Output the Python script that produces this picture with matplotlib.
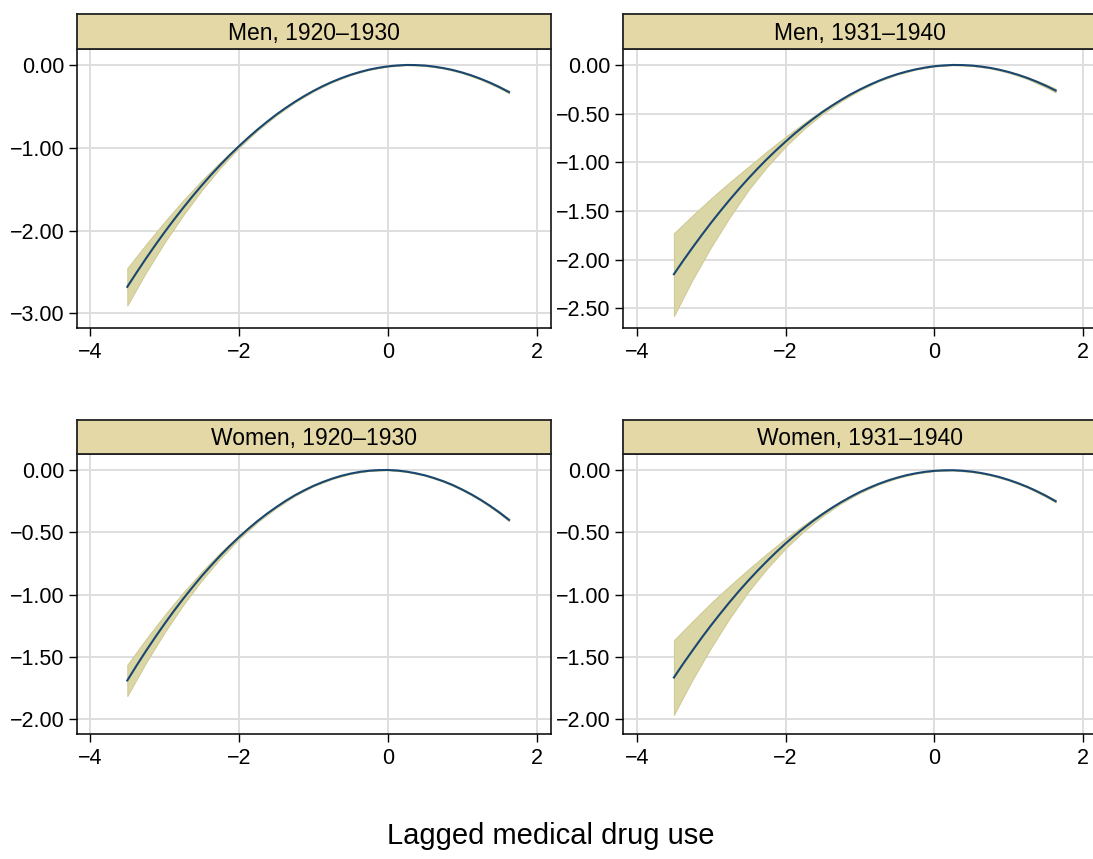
import matplotlib
matplotlib.use("Agg")
import matplotlib.pyplot as plt
from matplotlib.ticker import FuncFormatter

plt.rcParams['font.family'] = ['Liberation Sans', 'DejaVu Sans']

# ---------------- data ----------------
# fine grid for the fitted curves
x_fit = [-3.5, -3.375, -3.25, -3.125, -3.0, -2.875, -2.75, -2.625, -2.5, -2.375, -2.25,
         -2.125, -2.0, -1.875, -1.75, -1.625, -1.5, -1.375, -1.25, -1.125, -1.0,
         -0.875, -0.75, -0.625, -0.5, -0.375, -0.25, -0.125, 0.0, 0.125, 0.25,
         0.375, 0.5, 0.625, 0.75, 0.875, 1.0, 1.125, 1.25, 1.375, 1.5, 1.63]
# coarser grid for the confidence bands
x_band = [-3.5, -3.25, -3.0, -2.75, -2.5, -2.25, -2.0, -1.75, -1.5, -1.25, -1.0,
          -0.75, -0.5, -0.25, 0.0, 0.25, 0.5, 0.75, 1.0, 1.25, 1.5, 1.63]

titles = ["Men, 1920\u20131930", "Men, 1931\u20131940",
          "Women, 1920\u20131930", "Women, 1931\u20131940"]

fit_men_20 = [-2.680, -2.507, -2.339, -2.177, -2.021, -1.871, -1.727, -1.588, -1.455, -1.328, -1.207,
              -1.091, -0.982, -0.878, -0.780, -0.688, -0.601, -0.521, -0.446, -0.377, -0.314,
              -0.256, -0.205, -0.159, -0.119, -0.085, -0.056, -0.034, -0.017, -0.006, 0.000,
              -0.001, -0.007, -0.020, -0.038, -0.061, -0.091, -0.126, -0.168, -0.214, -0.267, -0.328]
lo_men_20 = [-2.905, -2.509, -2.146, -1.817, -1.515, -1.242, -1.002, -0.792, -0.611, -0.454, -0.320,
             -0.210, -0.123, -0.059, -0.019, -0.002, -0.010, -0.043, -0.098, -0.177, -0.279, -0.342]
hi_men_20 = [-2.455, -2.169, -1.896, -1.637, -1.395, -1.172, -0.962, -0.768, -0.591, -0.438, -0.308,
             -0.200, -0.115, -0.053, -0.015, 0.002, -0.004, -0.033, -0.084, -0.159, -0.255, -0.314]

fit_men_31 = [-2.150, -2.011, -1.877, -1.747, -1.621, -1.501, -1.385, -1.274, -1.167, -1.065, -0.968,
              -0.876, -0.788, -0.704, -0.626, -0.552, -0.482, -0.418, -0.358, -0.302, -0.252,
              -0.206, -0.164, -0.127, -0.095, -0.068, -0.045, -0.027, -0.013, -0.005, 0.000,
              -0.001, -0.006, -0.016, -0.030, -0.049, -0.073, -0.101, -0.134, -0.172, -0.214, -0.263]
lo_men_31 = [-2.580, -2.207, -1.871, -1.565, -1.287, -1.048, -0.838, -0.656, -0.502, -0.370, -0.260,
             -0.169, -0.099, -0.048, -0.015, -0.002, -0.009, -0.035, -0.081, -0.145, -0.230, -0.283]
hi_men_31 = [-1.730, -1.547, -1.371, -1.205, -1.047, -0.888, -0.738, -0.596, -0.462, -0.346, -0.244,
             -0.159, -0.091, -0.042, -0.011, 0.002, -0.003, -0.025, -0.065, -0.123, -0.198, -0.243]

fit_wom_20 = [-1.690, -1.570, -1.454, -1.343, -1.236, -1.133, -1.035, -0.942, -0.852, -0.768, -0.687,
              -0.611, -0.540, -0.473, -0.410, -0.352, -0.299, -0.249, -0.204, -0.164, -0.128,
              -0.097, -0.070, -0.047, -0.029, -0.015, -0.006, -0.001, 0.000, -0.004, -0.013,
              -0.026, -0.043, -0.065, -0.091, -0.121, -0.157, -0.196, -0.240, -0.288, -0.341, -0.401]
lo_wom_20 = [-1.815, -1.549, -1.306, -1.085, -0.887, -0.711, -0.555, -0.420, -0.306, -0.209, -0.132,
             -0.073, -0.031, -0.007, -0.001, -0.015, -0.046, -0.095, -0.162, -0.246, -0.349, -0.411]
hi_wom_20 = [-1.565, -1.359, -1.166, -0.985, -0.817, -0.663, -0.525, -0.400, -0.292, -0.199, -0.124,
             -0.067, -0.027, -0.005, 0.001, -0.011, -0.040, -0.087, -0.152, -0.234, -0.333, -0.391]

fit_wom_31 = [-1.666, -1.555, -1.449, -1.345, -1.246, -1.151, -1.059, -0.971, -0.887, -0.807, -0.731,
              -0.658, -0.589, -0.524, -0.463, -0.405, -0.352, -0.302, -0.256, -0.214, -0.175,
              -0.141, -0.110, -0.083, -0.060, -0.040, -0.025, -0.013, -0.005, -0.001, 0.000,
              -0.004, -0.011, -0.022, -0.037, -0.055, -0.078, -0.104, -0.134, -0.168, -0.206, -0.249]
lo_wom_31 = [-1.966, -1.684, -1.426, -1.189, -0.977, -0.791, -0.629, -0.488, -0.367, -0.266, -0.182,
             -0.115, -0.064, -0.028, -0.007, -0.002, -0.014, -0.041, -0.083, -0.140, -0.214, -0.259]
hi_wom_31 = [-1.366, -1.214, -1.066, -0.929, -0.797, -0.671, -0.549, -0.438, -0.337, -0.246, -0.168,
             -0.105, -0.056, -0.022, -0.003, 0.002, -0.008, -0.033, -0.073, -0.128, -0.198, -0.239]

xticks = [-4, -2, 0, 2]
yticks_men_20 = [0.0, -1.0, -2.0, -3.0]
yticks_men_31 = [0.0, -0.5, -1.0, -1.5, -2.0, -2.5]
yticks_wom_20 = [0.0, -0.5, -1.0, -1.5, -2.0]
yticks_wom_31 = [0.0, -0.5, -1.0, -1.5, -2.0]

xlabel = "Lagged medical drug use"

# ---------------- styling ----------------
W, H = 1093, 859
LINE = '#1a476f'
BAND = '#dbd6a5'
BAND_EDGE = '#cdc891'
HEADER = '#e3d8a6'
GRID = '#dedede'

fig = plt.figure(figsize=(W / 100, H / 100), dpi=100)
fig.patch.set_facecolor('white')

# pixel boxes: (left, right, header_top, plot_top, plot_bottom)
boxes = [
    (76.7, 550.7, 14, 49, 328.3),
    (623.3, 1097.3, 14, 49, 328.3),
    (76.7, 550.7, 420, 454.3, 734),
    (623.3, 1097.3, 420, 454.3, 734),
]
ylims = [(-3.181, 0.193), (-2.706, 0.164), (-2.12, 0.126), (-2.12, 0.128)]
xlim = (-4.18, 2.19)

panels = [
    (fit_men_20, lo_men_20, hi_men_20, yticks_men_20),
    (fit_men_31, lo_men_31, hi_men_31, yticks_men_31),
    (fit_wom_20, lo_wom_20, hi_wom_20, yticks_wom_20),
    (fit_wom_31, lo_wom_31, hi_wom_31, yticks_wom_31),
]

def fmt(v, pos):
    s = f"{v:.2f}"
    if s == "-0.00":
        s = "0.00"
    return s.replace('-', '\u2212')

def xfmt(v, pos):
    return f"{v:g}".replace('-', '\u2212')

for (l, r, ht, pt, pb), (fit, lo, hi, yt), title, yl in zip(boxes, panels, titles, ylims):
    ax = fig.add_axes([l / W, 1 - pb / H, (r - l) / W, (pb - pt) / H])
    ax.fill_between(x_band, lo, hi, facecolor=BAND, edgecolor=BAND_EDGE, linewidth=0.7, zorder=2)
    ax.plot(x_fit, fit, color=LINE, linewidth=1.5, zorder=3, solid_joinstyle='round')
    ax.set_xlim(*xlim)
    ax.set_ylim(*yl)
    ax.set_xticks(xticks)
    ax.set_yticks(yt)
    ax.yaxis.set_major_formatter(FuncFormatter(fmt))
    ax.xaxis.set_major_formatter(FuncFormatter(xfmt))
    ax.grid(True, color=GRID, linewidth=1.4, zorder=0)
    ax.set_axisbelow(True)
    for s in ax.spines.values():
        s.set_linewidth(1.1)
        s.set_color('black')
    ax.tick_params(axis='both', length=6, width=1.0, labelsize=15.5, color='black')
    ax.tick_params(axis='x', pad=4)
    ax.tick_params(axis='y', pad=3)

    # header strip
    hax = fig.add_axes([l / W, 1 - pt / H, (r - l) / W, (pt - ht) / H])
    hax.set_facecolor(HEADER)
    hax.set_xticks([])
    hax.set_yticks([])
    for s in hax.spines.values():
        s.set_linewidth(1.3)
        s.set_color('#222222')
    hax.text(0.5, 0.45, title, ha='center', va='center', fontsize=16.5,
             transform=hax.transAxes)

fig.text(550.5 / W, 1 - 836 / H, xlabel, ha='center', va='center', fontsize=21)

fig.savefig('out.png', dpi=100, facecolor='white')
